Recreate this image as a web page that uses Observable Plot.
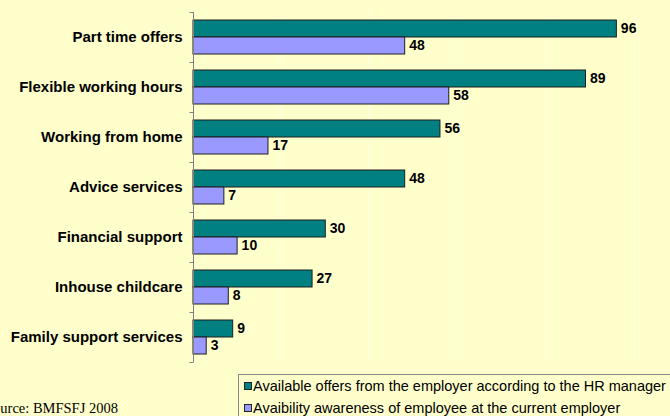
<!DOCTYPE html>
<html>
<head>
<meta charset="utf-8">
<script src="https://cdn.jsdelivr.net/npm/d3@7"></script>
<script src="https://cdn.jsdelivr.net/npm/@observablehq/plot@0.6"></script>
<style>
  html, body { margin: 0; padding: 0; background: #FFFFCC; overflow: hidden; }
  #wrap { position: relative; width: 670px; height: 416px; overflow: hidden; background: #FFFFCC; }
  #chart { position: absolute; left: 0; top: 0; }
  .legend { position: absolute; left: 238px; top: 374px; width: 470px; height: 60px;
            border: 1px solid #8a8a8a; box-sizing: border-box; }
  .item { position: absolute; font-family: Arial, "Liberation Sans", sans-serif; font-size: 14.5px;
          line-height: 14.5px; color: #000; white-space: nowrap; }
  .sw { position: absolute; width: 6px; height: 6px; border: 1px solid #222; }
  .source { position: absolute; left: -15px; top: 401px; font-family: "Times New Roman", "Liberation Serif", serif;
            font-size: 14.5px; line-height: 14.5px; color: #000; white-space: nowrap; }
</style>
</head>
<body>
<div id="wrap">
  <div id="chart"></div>
  <div class="source">Source: BMFSFJ 2008</div>
  <div class="legend" id="legend"></div>
</div>
<script>
const categories = ["Part time offers", "Flexible working hours", "Working from home", "Advice services", "Financial support", "Inhouse childcare", "Family support services"];
const offersHR = [96, 89, 56, 48, 30, 27, 9];
const awarenessEmployee = [48, 58, 17, 7, 10, 8, 3];
const seriesNames = ["Available offers from the employer according to the HR manager", "Avaibility awareness of employee at the current employer"];
const seriesColors = ["#008080", "#9999FF"];
const gridTicks = [20, 40, 60, 80, 100];

const rowsA = categories.map((c, i) => ({category: c, value: offersHR[i]}));
const rowsB = categories.map((c, i) => ({category: c, value: awarenessEmployee[i]}));

const W = 670, H = 370, mT = 12, mB = 8, mL = 193, mR = 36;
const band = (H - mT - mB) / categories.length;
const pad = band * 0.16;
const barH = (band - 2 * pad) / 2;

function axisLine(index, scales, values, dims) {
  const g = d3.create("svg:g").attr("stroke", "#808080").attr("stroke-width", 1).attr("fill", "none");
  const x0 = Math.round(scales.x(0)) + 0.5;
  const top = dims.marginTop, bottom = dims.height - dims.marginBottom;
  g.append("line").attr("x1", x0).attr("x2", x0).attr("y1", top).attr("y2", bottom);
  const step = (bottom - top) / categories.length;
  for (let i = 0; i <= categories.length; i++) {
    const yy = Math.round(top + i * step) + 0.5;
    g.append("line").attr("x1", x0 - 4).attr("x2", x0).attr("y1", yy).attr("y2", yy);
  }
  return g.node();
}

const plot = Plot.plot({
  width: W, height: H,
  marginTop: mT, marginBottom: mB, marginLeft: mL, marginRight: mR,
  style: {background: "transparent", fontFamily: "Arial, 'Liberation Sans', sans-serif", color: "#000"},
  x: {domain: [0, 100], axis: null},
  y: {domain: categories, padding: 0, axis: null},
  marks: [
    Plot.gridX(gridTicks, {stroke: "#ffffe6", strokeOpacity: 1}),
    Plot.barX(rowsA, {x: "value", y: "category", fill: seriesColors[0], stroke: "#1e1e1e", strokeWidth: 1,
      insetTop: pad, insetBottom: band - pad - barH}),
    Plot.barX(rowsB, {x: "value", y: "category", fill: seriesColors[1], stroke: "#1e1e1e", strokeWidth: 1,
      insetTop: pad + barH, insetBottom: pad}),
    Plot.text(rowsA, {x: "value", y: "category", text: d => String(d.value), dx: 4, dy: -(barH / 2),
      textAnchor: "start", fontWeight: "bold", fontSize: 14, fill: "#000"}),
    Plot.text(rowsB, {x: "value", y: "category", text: d => String(d.value), dx: 4, dy: barH / 2,
      textAnchor: "start", fontWeight: "bold", fontSize: 14, fill: "#000"}),
    Plot.axisY({tickSize: 0, tickPadding: 11, fontSize: 15, fontWeight: "bold", label: null}),
    axisLine
  ]
});
document.getElementById("chart").appendChild(plot);

const legend = document.getElementById("legend");
seriesNames.forEach((name, i) => {
  const sw = document.createElement("div");
  sw.className = "sw";
  sw.style.left = "5px";
  sw.style.top = (7 + i * 22) + "px";
  sw.style.background = seriesColors[i];
  legend.appendChild(sw);
  const t = document.createElement("div");
  t.className = "item";
  t.style.left = "14px";
  t.style.top = (4 + i * 21.7) + "px";
  t.textContent = name;
  legend.appendChild(t);
});
</script>
</body>
</html>
